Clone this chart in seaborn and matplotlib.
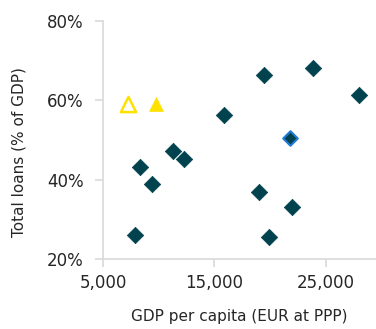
import pandas as pd
import seaborn as sns
import matplotlib.pyplot as plt
import matplotlib.ticker as mticker

# countries as dark diamonds, one highlighted with a blue edge
gdp = [8350, 7900, 9430, 11250, 12240, 15860, 19030, 19480, 19930, 22010, 23900, 27990]
loans = [43.2, 26.0, 38.9, 47.2, 45.2, 56.3, 36.9, 66.4, 25.5, 33.1, 68.2, 61.3]
hl_gdp = [21830]
hl_loans = [50.5]
# yellow triangles
open_gdp = [7200]
open_loans = [59.1]
fill_gdp = [9800]
fill_loans = [59.1]

df = pd.DataFrame({"GDP": gdp, "Loans": loans})
df_hl = pd.DataFrame({"GDP": hl_gdp, "Loans": hl_loans})
df_open = pd.DataFrame({"GDP": open_gdp, "Loans": open_loans})
df_fill = pd.DataFrame({"GDP": fill_gdp, "Loans": fill_loans})

sns.set_style("white")
plt.rcParams["font.family"] = ["DejaVu Sans"]

fig = plt.figure(figsize=(3.76, 3.29), dpi=100)
ax = fig.add_axes([0.274, 0.213, 0.725, 0.723])

teal = "#00434F"
yellow = "#FFE100"
sns.scatterplot(data=df, x="GDP", y="Loans", marker="D", s=70, color=teal,
                edgecolor=teal, linewidth=0.5, ax=ax)
sns.scatterplot(data=df_hl, x="GDP", y="Loans", marker="D", s=55, color=teal,
                edgecolor="#1F7BD6", linewidth=1.5, ax=ax)
sns.scatterplot(data=df_open, x="GDP", y="Loans", marker="^", s=120, color="white",
                edgecolor=yellow, linewidth=1.8, ax=ax)
sns.scatterplot(data=df_fill, x="GDP", y="Loans", marker="^", s=100, color=yellow,
                edgecolor=yellow, linewidth=0.5, ax=ax)

ax.set_xlim(5000, 29500)
ax.set_ylim(20, 80)
ax.set_xticks([5000, 15000, 25000])
ax.set_yticks([20, 40, 60, 80])
ax.xaxis.set_major_formatter(mticker.FuncFormatter(lambda v, p: f"{int(v):,}"))
ax.yaxis.set_major_formatter(mticker.FuncFormatter(lambda v, p: f"{int(v)}%"))

for s in ["top", "right"]:
    ax.spines[s].set_visible(False)
for s in ["left", "bottom"]:
    ax.spines[s].set_color("#D9D9D9")
    ax.spines[s].set_linewidth(1.2)
ax.tick_params(axis="both", bottom=True, left=True, direction="out", length=6,
               width=1.2, color="#D9D9D9", labelsize=12, labelcolor="#262626")
ax.tick_params(axis="y", pad=8)
ax.tick_params(axis="x", pad=5)

ax.set_xlabel("GDP per capita (EUR at PPP)", fontsize=11, color="#262626", labelpad=12)
ax.set_ylabel("Total loans (% of GDP)", fontsize=11, color="#262626")
ax.yaxis.set_label_coords(-0.28, 0.45)

fig.savefig("out.png", dpi=100)
